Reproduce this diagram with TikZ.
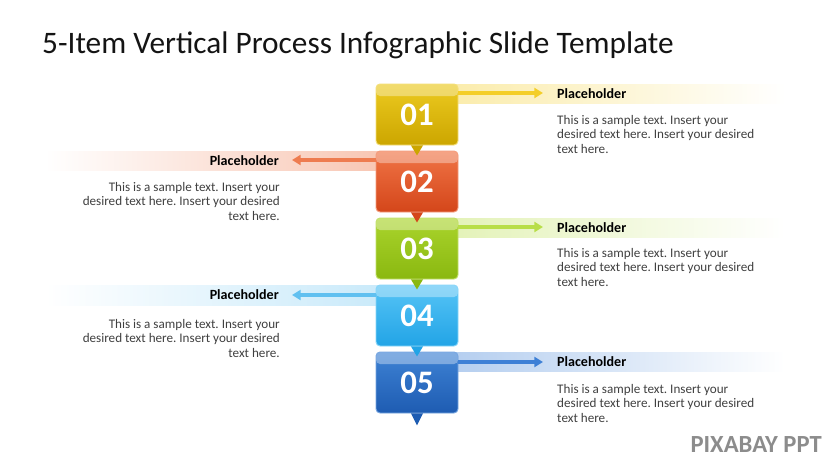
\documentclass[tikz,border=0pt]{standalone}
\usepackage{fontspec}
\setmainfont{Carlito}
\frenchspacing
\usetikzlibrary{positioning,arrows.meta}
\definecolor{CTXT}{RGB}{64,64,64}
\definecolor{CTTL}{RGB}{20,20,20}
\definecolor{CWM}{RGB}{140,140,140}
\definecolor{CYT}{RGB}{236,202,32}
\definecolor{CYB}{RGB}{204,166,0}
\definecolor{CYA}{RGB}{244,206,40}
\definecolor{COT}{RGB}{240,116,70}
\definecolor{COB}{RGB}{212,70,26}
\definecolor{COA}{RGB}{238,124,80}
\definecolor{CGT}{RGB}{170,212,44}
\definecolor{CGB}{RGB}{138,184,16}
\definecolor{CGA}{RGB}{184,222,72}
\definecolor{CLT}{RGB}{86,196,246}
\definecolor{CLB}{RGB}{34,164,230}
\definecolor{CLA}{RGB}{96,192,240}
\definecolor{CDT}{RGB}{62,130,212}
\definecolor{CDB}{RGB}{30,92,178}
\definecolor{CDA}{RGB}{62,128,214}

\begin{document}
\begin{tikzpicture}[x=0.03cm,y=-0.03cm,
  numbox/.style={rounded corners=3.5pt,minimum width=2.46cm,minimum height=1.83cm,
    inner sep=0pt,text=white,font=\fontsize{28}{28}\selectfont\bfseries,line width=0.8pt,
    path picture={\fill[white,opacity=0.35] (path picture bounding box.north west)
      rectangle ([yshift=-0.36cm]path picture bounding box.north east);}},
  pointer/.style={line width=0.1cm,-{Triangle[length=0.26cm,width=0.3cm]}},
  head/.style={font=\fontsize{12}{14}\selectfont\bfseries,text=black,inner sep=0pt},
  body/.style={font=\fontsize{11.2}{12.4}\selectfont,text=CTXT,inner sep=0pt}]
  \useasboundingbox[fill=white] (0,0) rectangle (835,470);
  % — title
  \node[font=\fontsize{26.7}{30}\selectfont,text=CTTL,anchor=west,inner sep=0pt] (title) at (42,45) {5-Item Vertical Process Infographic Slide Template};
  % — bands behind the steps
  \shade[left color=CYA!40,right color=white] (440,84) rectangle (785,103);
  \shade[left color=white,right color=COA!45] (45,151) rectangle (395,170);
  \shade[left color=CGA!40,right color=white] (440,218) rectangle (785,237);
  \shade[left color=white,right color=CLA!35] (45,285) rectangle (395,305);
  \shade[left color=CDA!40,right color=white] (440,352) rectangle (785,371);
  % — steps
  \node[numbox,top color=CYT,bottom color=CYB,draw=CYT!60!white] (b1) at (417,114.5) {01};
  \node[numbox,top color=COT,bottom color=COB,draw=COT!70!white] (b2) at (417,181.5) {02};
  \node[numbox,top color=CGT,bottom color=CGB,draw=CGT!70!white] (b3) at (417,248.5) {03};
  \node[numbox,top color=CLT,bottom color=CLB,draw=CLT!70!white] (b4) at (417,315.5) {04};
  \node[numbox,top color=CDT,bottom color=CDB,draw=CDT!70!white] (b5) at (417,382.5) {05};
  \fill[CYB] ([xshift=-0.18cm]b1.south) -- ([xshift=0.18cm]b1.south) -- ([yshift=-0.3cm]b1.south) -- cycle;
  \fill[COB] ([xshift=-0.18cm]b2.south) -- ([xshift=0.18cm]b2.south) -- ([yshift=-0.3cm]b2.south) -- cycle;
  \fill[CGB] ([xshift=-0.18cm]b3.south) -- ([xshift=0.18cm]b3.south) -- ([yshift=-0.3cm]b3.south) -- cycle;
  \fill[CLB] ([xshift=-0.18cm]b4.south) -- ([xshift=0.18cm]b4.south) -- ([yshift=-0.3cm]b4.south) -- cycle;
  \fill[CDB] ([xshift=-0.18cm]b5.south) -- ([xshift=0.18cm]b5.south) -- ([yshift=-0.36cm]b5.south) -- cycle;
  % — arrows
  \coordinate (a1) at (543,93);
  \coordinate (a2) at (292,160);
  \coordinate (a3) at (543,227);
  \coordinate (a4) at (292,295);
  \coordinate (a5) at (543,362);
  \draw[pointer,CYA] (b1.east |- a1) -- (a1);
  \draw[pointer,COA] (b2.west |- a2) -- (a2);
  \draw[pointer,CGA] (b3.east |- a3) -- (a3);
  \draw[pointer,CLA] (b4.west |- a4) -- (a4);
  \draw[pointer,CDA] (b5.east |- a5) -- (a5);
  % — texts
  \node[head,anchor=west] (h1) at (557,94) {Placeholder};
  \node[body,anchor=north west,align=left] (t1) at (557,115) {This is a sample text. Insert your\\desired text here. Insert your desired\\text here.};
  \node[head,anchor=east] (h2) at (279,161) {Placeholder};
  \node[body,anchor=north east,align=right] (t2) at (280,182) {This is a sample text. Insert your\\desired text here. Insert your desired\\text here.};
  \node[head,anchor=west] (h3) at (557,228) {Placeholder};
  \node[body,anchor=north west,align=left] (t3) at (557,248) {This is a sample text. Insert your\\desired text here. Insert your desired\\text here.};
  \node[head,anchor=east] (h4) at (279,295) {Placeholder};
  \node[body,anchor=north east,align=right] (t4) at (280,319) {This is a sample text. Insert your\\desired text here. Insert your desired\\text here.};
  \node[head,anchor=west] (h5) at (557,362) {Placeholder};
  \node[body,anchor=north west,align=left] (t5) at (557,384) {This is a sample text. Insert your\\desired text here. Insert your desired\\text here.};
  % — watermark
  \node[font=\fontsize{21}{21}\selectfont\bfseries,text=CWM,anchor=east,inner sep=0pt] (wm) at (822,445) {PIXABAY PPT};
\end{tikzpicture}
\end{document}
